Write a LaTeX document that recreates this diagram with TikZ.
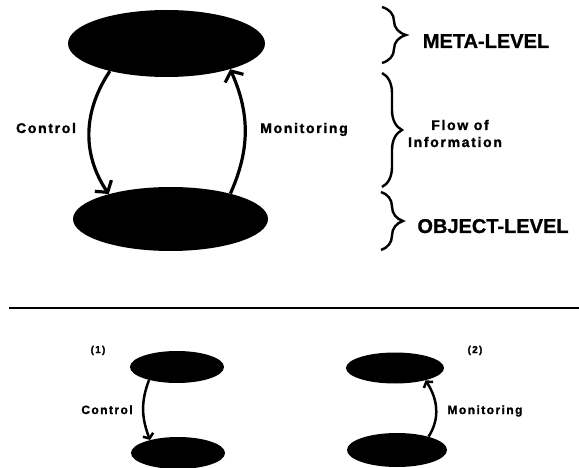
\documentclass[tikz,border=0pt]{standalone}
\usepackage{fontspec}
\setmainfont{Liberation Sans}
\newfontfamily\lblfont[LetterSpace=12,FakeBold=1.5]{Liberation Sans Bold}
\newfontfamily\levelfont[FakeBold=1]{Liberation Sans Bold}
\usetikzlibrary{shapes.geometric,arrows.meta,decorations.pathreplacing}
\tikzset{>={Straight Barb[length=8pt,width=20pt]}}
\tikzset{
  blob/.style={ellipse, fill=black, inner sep=0pt},
  flowline/.style={line width=3.2pt, ->},
  smallflow/.style={line width=2.5pt, -{Straight Barb[length=4pt,width=11pt]}},
  levelbrace/.style={decorate, decoration={brace, amplitude=#1}, line width=2.4pt},
  biglabel/.style={font=\levelfont\fontsize{20}{24}\selectfont, anchor=base},
  lbl/.style={font=\lblfont\fontsize{14}{17}\selectfont, anchor=base},
  smalllbl/.style={font=\lblfont\fontsize{12}{14}\selectfont, anchor=base},
  tinylbl/.style={font=\lblfont\fontsize{10}{12}\selectfont, anchor=base},
}

\begin{document}
\begin{tikzpicture}[x=1pt,y=1pt]
            \useasboundingbox (0,0) rectangle (579,-468);

            % Meta-level and object-level
            \node[blob, minimum width=197pt, minimum height=67pt] (meta) at (166.5,-43.5) {};
            \node[blob, minimum width=195pt, minimum height=64pt] (object) at (170.5,-219) {};

            % Control and monitoring between the levels
            \draw[flowline] (meta.206) to[out=236, in=124] (object.158);
            \draw[flowline] (object.23) to[out=66, in=294] (meta.338);
            \node[lbl] (control) at (46,-133) {Control};
            \node[lbl] (monitoring) at (304,-133) {Monitoring};

            % Braces and their labels
            \coordinate (metatop) at (382,-7);
            \coordinate (metabot) at (382,-63);
            \coordinate (flowtop) at (382,-73);
            \coordinate (flowbot) at (382,-187);
            \coordinate (objecttop) at (381,-192);
            \coordinate (objectbot) at (381,-250);
            \draw[levelbrace=24] (metatop) -- (metabot);
            \draw[levelbrace=20] (flowtop) -- (flowbot);
            \draw[levelbrace=22] (objecttop) -- (objectbot);
            \node[biglabel] (metalbl) at (486,-48) {META-LEVEL};
            \node[lbl] (flowlbl) at (460,-130) {Flow of};
            \node[lbl] (infolbl) at (455,-147) {Information};
            \node[biglabel] (objectlbl) at (493,-233) {OBJECT-LEVEL};

            % Separator
            \draw[line width=1.5pt] (9,-308) -- (579,-308);

            % Case (1): control only
            \node[blob, minimum width=94pt, minimum height=32pt] (metaone) at (177,-367) {};
            \node[blob, minimum width=94pt, minimum height=32pt] (objectone) at (178,-453) {};
            \draw[smallflow] (metaone.205) to[out=249, in=111] (objectone.155);
            \node[smalllbl] (controlone) at (107,-414) {Control};
            \node[tinylbl] (caseone) at (98,-353) {(1)};

            % Case (2): monitoring only
            \node[blob, minimum width=98pt, minimum height=31pt] (metatwo) at (395,-368) {};
            \node[blob, minimum width=100pt, minimum height=34pt] (objecttwo) at (397,-450) {};
            \draw[smallflow] (objecttwo.23) to[out=57, in=303] (metatwo.338);
            \node[smalllbl] (monitoringtwo) at (485,-414) {Monitoring};
            \node[tinylbl] (casetwo) at (475,-353) {(2)};

\end{tikzpicture}
\end{document}
